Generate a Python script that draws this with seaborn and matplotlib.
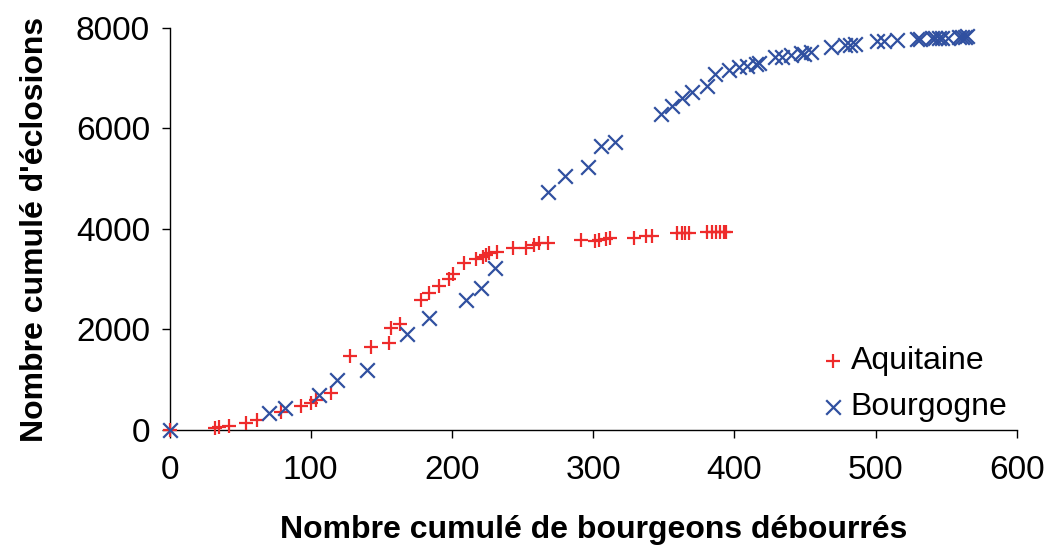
import matplotlib
matplotlib.use("Agg")
import matplotlib.pyplot as plt
import seaborn as sns
import pandas as pd

# Cumulative budburst vs cumulative hatching, two regions
aquitaine_x = [0, 32, 35, 42, 54.5, 62, 79, 93, 100.5, 104, 114.6, 127.6, 142.9,
               155.3, 157, 162.9, 178.2, 183.6, 190.7, 197.7, 200.6, 208.8, 217.1,
               221.8, 224, 226.5, 231.7, 243, 252.4, 258.3, 261.8, 267.7, 291.3,
               301.4, 304.2, 309, 312, 329, 337.2, 341.9, 359.6, 363, 365, 368,
               380.8, 384, 387, 390, 392.6, 394]
aquitaine_y = [0, 46, 66, 80, 146, 199, 365, 478, 544, 597, 743, 1473, 1658,
               1738, 2023, 2109, 2587, 2733, 2866, 2999, 3104, 3330, 3397,
               3450, 3480, 3520, 3548, 3616, 3616, 3682, 3715, 3715, 3781,
               3767, 3781, 3795, 3820, 3815, 3861, 3861, 3914, 3920, 3920, 3920,
               3946, 3946, 3946, 3946, 3946, 3946]

bourgogne_x = [0, 70.5, 81.6, 105.9, 118.5, 139.8, 168, 183.6, 210, 220.6, 230.7,
               267.7, 280.2, 296, 305.4, 315.5, 347.8, 356, 363.1, 369.7, 380.4,
               386.2, 396.1, 403.2, 409, 415, 417.3, 429, 433.8, 439.7, 446.8,
               449.1, 453.9, 468, 478.6, 482.1, 485.2, 500.9, 505.7, 515.1, 529.2,
               531.6, 539.8, 542.1, 544.5, 546.8, 551.5, 558.7, 561, 563.4, 564.6]
bourgogne_y = [0, 345, 431, 697, 995, 1194, 1910, 2222, 2587, 2820, 3218,
               4743, 5055, 5228, 5652, 5738, 6289, 6448, 6601, 6720, 6846,
               7085, 7164, 7230, 7244, 7278, 7297, 7420, 7430, 7463, 7496,
               7480, 7529, 7628, 7662, 7670, 7675, 7741, 7741, 7761, 7781,
               7781, 7807, 7807, 7807, 7807, 7807, 7827, 7827, 7827, 7847]

x_ticks = [0, 100, 200, 300, 400, 500, 600]
y_ticks = [0, 2000, 4000, 6000, 8000]

sns.set_style("white")
plt.rcParams["font.family"] = ["Liberation Sans", "DejaVu Sans"]
plt.rcParams["text.color"] = "black"
plt.rcParams["axes.labelcolor"] = "black"
plt.rcParams["xtick.color"] = "black"
plt.rcParams["ytick.color"] = "black"

df_a = pd.DataFrame({"x": aquitaine_x, "y": aquitaine_y})
df_b = pd.DataFrame({"x": bourgogne_x, "y": bourgogne_y})

fig = plt.figure(figsize=(10.47, 5.5), dpi=100)
ax = fig.add_axes([0.1619, 0.2182, 0.8094, 0.7309])

red = "#ee2b2b"
blue = "#3050a0"
sns.scatterplot(data=df_a, x="x", y="y", ax=ax, marker="+", s=110,
                color=red, linewidth=1.6, label="Aquitaine", clip_on=False, zorder=3)
sns.scatterplot(data=df_b, x="x", y="y", ax=ax, marker="x", s=110,
                color=blue, linewidth=1.6, label="Bourgogne", clip_on=False, zorder=3)

ax.set_xlim(0, 600)
ax.set_ylim(0, 8000)
ax.set_xticks(x_ticks)
ax.set_yticks(y_ticks)
ax.tick_params(axis="both", labelsize=24, direction="out", length=6, width=1,
               color="black", labelcolor="black", left=True, bottom=True)
ax.tick_params(axis="x", pad=12)
ax.tick_params(axis="y", pad=8)

for side in ("top", "right"):
    ax.spines[side].set_visible(False)
for side in ("left", "bottom"):
    ax.spines[side].set_color("black")
    ax.spines[side].set_linewidth(1)

ax.set_xlabel("Nombre cumulé de bourgeons débourrés", fontsize=23,
              fontweight="bold", labelpad=21, color="black")
ax.set_ylabel("Nombre cumulé d'éclosions", fontsize=23,
              fontweight="bold", labelpad=19, color="black")

leg = ax.legend(loc="lower right", bbox_to_anchor=(1.004, -0.012), frameon=False,
                fontsize=23, handlelength=0.6, handletextpad=0.25,
                markerscale=1.0, labelspacing=0.5, borderaxespad=0.0)

fig.savefig("out.png", dpi=100)
